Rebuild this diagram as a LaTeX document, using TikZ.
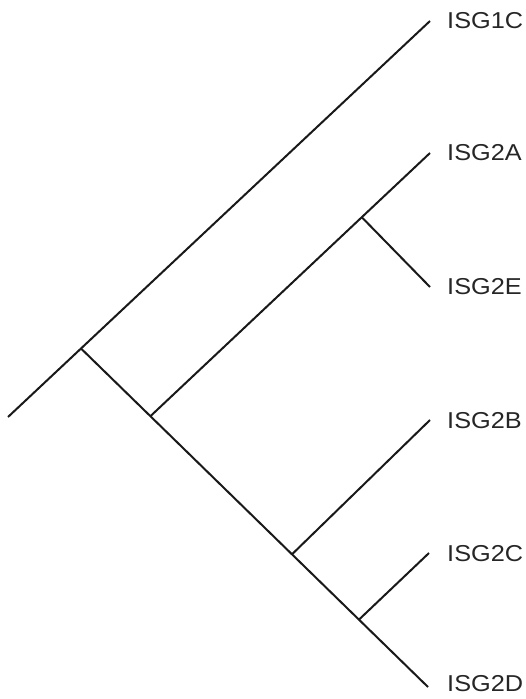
\documentclass[tikz,border=0pt]{standalone}
\usepackage{fontspec}
\setmainfont{Liberation Sans}
\usetikzlibrary{calc}
\begin{document}
\begin{tikzpicture}[x=1pt,y=-1pt,
  branch/.style={line width=2pt, line cap=butt, black!90},
  leaf/.style={anchor=west, inner sep=0pt, xscale=1.1, font=\fontsize{23}{27}\selectfont, text=black!85}]
\useasboundingbox (0,0) rectangle (525,699);
\coordinate (root) at (8,417);
\coordinate (t1) at (430,21);
\coordinate (tA) at (430,153);
\coordinate (tE) at (430,287);
\coordinate (tB) at (430,420);
\coordinate (tC) at (429,553);
\coordinate (tD) at (428,687);
\coordinate (j1) at ($(root)!0.173!(t1)$);
\coordinate (j2) at ($(j1)!0.2!(tD)$);
\coordinate (jB) at ($(j1)!0.608!(tD)$);
\coordinate (jCD) at ($(j1)!0.801!(tD)$);
\coordinate (jAE) at ($(j2)!0.756!(tA)$);
\draw[branch] (root) -- (t1);
\draw[branch] (j1) -- (tD);
\draw[branch] (j2) -- (tA);
\draw[branch] (jAE) -- (tE);
\draw[branch] (jB) -- (tB);
\draw[branch] (jCD) -- (tC);
\node[leaf] (l1) at (447,21) {ISG1C};
\node[leaf] (lA) at (447,153) {ISG2A};
\node[leaf] (lE) at (447,287) {ISG2E};
\node[leaf] (lB) at (447,421) {ISG2B};
\node[leaf] (lC) at (447,554) {ISG2C};
\node[leaf] (lD) at (447,684) {ISG2D};
\end{tikzpicture}
\end{document}
